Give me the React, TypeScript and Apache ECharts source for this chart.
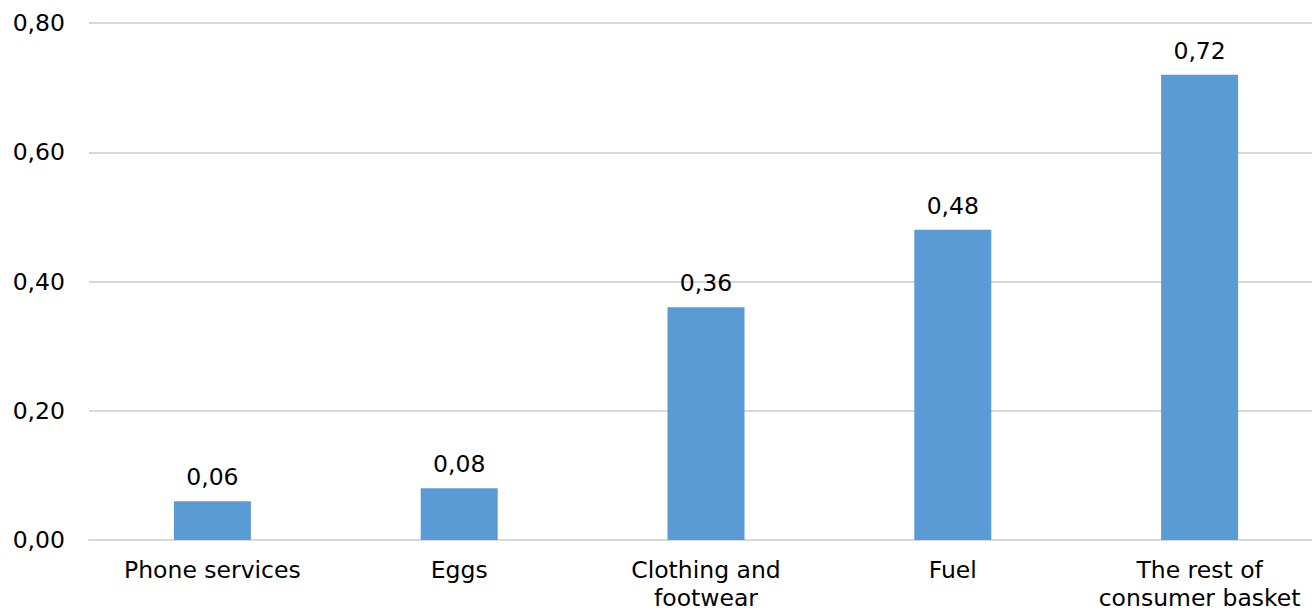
import React, { useEffect, useRef } from "react";
import * as echarts from "echarts";

const categories = ["Phone services", "Eggs", "Clothing and\nfootwear", "Fuel", "The rest of\nconsumer basket"];
const values = [0.06, 0.08, 0.36, 0.48, 0.72];
const yTicks = { min: 0, max: 0.8, interval: 0.2 };

const fmt = (v: number) => v.toFixed(2).replace(".", ",");

export default function App() {
  const ref = useRef<HTMLDivElement>(null);
  useEffect(() => {
    if (!ref.current) return;
    const chart = echarts.init(ref.current, undefined, { renderer: "svg" });
    const font = "'DejaVu Sans', Verdana, sans-serif";
    chart.setOption({
      animation: false,
      backgroundColor: "#ffffff",
      grid: {
        left: 89,
        right: 0,
        top: 23,
        bottom: 70,
        containLabel: false,
        outerBoundsMode: "none",
      },
      xAxis: {
        type: "category",
        data: categories,
        axisLine: { lineStyle: { color: "#d9d9d9", width: 2 } },
        axisTick: { show: false },
        axisLabel: {
          color: "#000000",
          fontFamily: font,
          fontSize: 23.5,
          lineHeight: 28,
          margin: 16,
          interval: 0,
        },
      },
      yAxis: {
        type: "value",
        min: yTicks.min,
        max: yTicks.max,
        interval: yTicks.interval,
        axisLine: { show: false },
        axisTick: { show: false },
        splitLine: { lineStyle: { color: "#d9d9d9", width: 2 } },
        axisLabel: {
          color: "#000000",
          fontFamily: font,
          fontSize: 23.5,
          margin: 24,
          formatter: (v: number) => fmt(v),
        },
      },
      series: [
        {
          type: "bar",
          data: values,
          barWidth: 77,
          itemStyle: { color: "#5b9bd5" },
          label: {
            show: true,
            position: "top",
            distance: 12,
            color: "#000000",
            fontFamily: font,
            fontSize: 23.5,
            formatter: (p: any) => fmt(p.value),
          },
        },
      ],
    });
    return () => chart.dispose();
  }, []);
  return (
    <div style={{ position: "fixed", left: 0, top: 0, width: 1312, height: 610, overflow: "hidden" }}>
      <div ref={ref} style={{ width: 1323, height: 610 }} />
    </div>
  );
}
